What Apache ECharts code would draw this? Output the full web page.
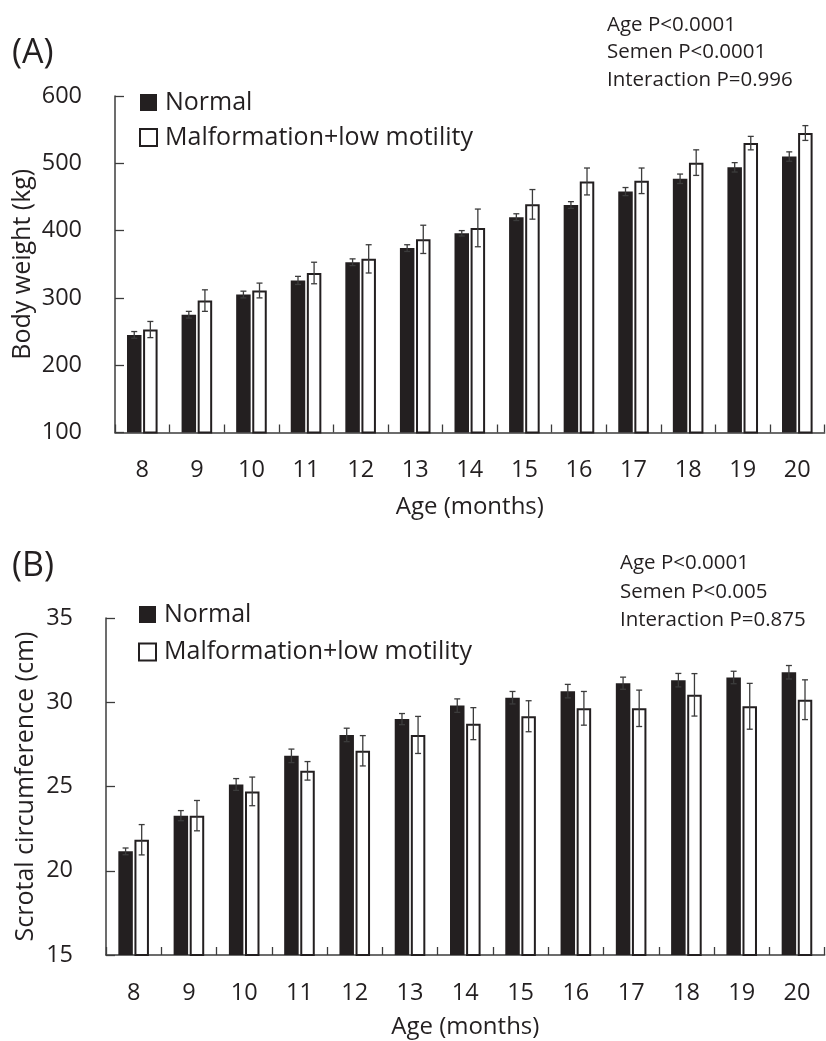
<!DOCTYPE html>
<html>
<head>
<meta charset="utf-8">
<script src="https://cdn.jsdelivr.net/npm/echarts@6/dist/echarts.min.js"></script>
<style>
  html, body { margin: 0; padding: 0; background: #fff; }
  #chart { width: 826px; height: 1041px; }
</style>
</head>
<body>
<div id="chart"></div>
<script>
// ---- Data ----
const months = ['8', '9', '10', '11', '12', '13', '14', '15', '16', '17', '18', '19', '20'];
const seriesNames = ['Normal', 'Malformation+low motility'];

const bwNormal    = [245, 275, 305, 326, 353, 374, 396, 420, 438, 458, 477, 494, 510];
const bwNormalErr = [5, 5, 5, 6, 5, 5, 4, 5, 5, 6, 7, 7, 7];
const bwMalf      = [253, 296, 311, 337, 358, 387, 404, 439, 473, 474, 501, 530, 545];
const bwMalfErr   = [12, 16, 11, 16, 21, 21, 28, 22, 20, 19, 19, 10, 11];

const scNormal    = [21.15, 23.27, 25.12, 26.82, 28.06, 29.0, 29.8, 30.27, 30.66, 31.13, 31.31, 31.47, 31.78];
const scNormalErr = [0.2, 0.3, 0.35, 0.4, 0.4, 0.33, 0.4, 0.37, 0.4, 0.36, 0.4, 0.37, 0.4];
const scMalf      = [21.84, 23.27, 24.71, 25.93, 27.12, 28.06, 28.73, 29.17, 29.64, 29.64, 30.44, 29.76, 30.15];
const scMalfErr   = [0.9, 0.9, 0.85, 0.55, 0.9, 1.1, 0.95, 0.92, 1.0, 1.08, 1.26, 1.36, 1.18];

const bwTicks = { min: 100, max: 600, interval: 100 };
const scTicks = { min: 15, max: 35, interval: 5 };

const statsA = ['Age P<0.0001', 'Semen P<0.0001', 'Interaction P=0.996'];
const statsB = ['Age P<0.0001', 'Semen P<0.005', 'Interaction P=0.875'];

// ---- Style ----
const FONT = '"Open Sans", "Noto Sans", sans-serif';
const TXT = '#231f20';
const AX = '#3c3c3c';
const DARK = '#231f20';
const BAR_W = 14.5;
const GAP_PCT = 11;
const OFFSET = (BAR_W + BAR_W * GAP_PCT / 100) / 2;

function errData(mean, err) {
  return mean.map((m, i) => [i, m, err[i]]);
}

function errSeries(gridIdx, mean, err, side) {
  return {
    type: 'custom',
    xAxisIndex: gridIdx, yAxisIndex: gridIdx,
    data: errData(mean, err),
    encode: { x: 0, y: 1 },
    z: 5,
    silent: true,
    renderItem: function (params, api) {
      const idx = api.value(0), m = api.value(1), e = api.value(2);
      const top = api.coord([idx, m + e]);
      const bot = api.coord([idx, m - e]);
      const x = top[0] + side * OFFSET;
      const cap = 3;
      const st = { stroke: AX, lineWidth: 1.3 };
      return {
        type: 'group',
        children: [
          { type: 'line', shape: { x1: x, y1: top[1], x2: x, y2: bot[1] }, style: st },
          { type: 'line', shape: { x1: x - cap, y1: top[1], x2: x + cap, y2: top[1] }, style: st },
          { type: 'line', shape: { x1: x - cap, y1: bot[1], x2: x + cap, y2: bot[1] }, style: st }
        ]
      };
    }
  };
}

function xAxisCfg(gridIdx, margin, nameGap) {
  return {
    type: 'category', gridIndex: gridIdx, data: months,
    name: 'Age (months)', nameLocation: 'middle', nameGap: nameGap,
    nameMoveOverlap: false,
    nameTextStyle: { fontFamily: FONT, fontSize: 24, color: TXT },
    axisLine: { show: true, lineStyle: { color: AX, width: 1.5 } },
    axisTick: { show: true, inside: true, length: 8, lineStyle: { color: AX, width: 1.3 } },
    axisLabel: { fontFamily: FONT, fontSize: 23.5, color: TXT, margin: margin },
    splitLine: { show: false }
  };
}

function yAxisCfg(gridIdx, ticks, name, nameGap) {
  return {
    type: 'value', gridIndex: gridIdx,
    min: ticks.min, max: ticks.max, interval: ticks.interval,
    name: name, nameLocation: 'middle', nameRotate: 90, nameGap: nameGap,
    nameMoveOverlap: false,
    nameTextStyle: { fontFamily: FONT, fontSize: 25, color: TXT },
    axisLine: { show: true, lineStyle: { color: AX, width: 1.5 } },
    axisTick: { show: true, inside: true, length: 9, lineStyle: { color: AX, width: 1.3 } },
    axisLabel: { fontFamily: FONT, fontSize: 23.5, color: TXT, margin: 33 },
    splitLine: { show: false }
  };
}

function barSeries(gridIdx, name, values) {
  const isNormal = name === seriesNames[0];
  return {
    type: 'bar', name: name,
    xAxisIndex: gridIdx, yAxisIndex: gridIdx,
    data: values,
    barWidth: BAR_W, barGap: GAP_PCT + '%',
    itemStyle: isNormal
      ? { color: DARK }
      : { color: '#ffffff', borderColor: DARK, borderWidth: 2 },
    silent: true
  };
}

function legendCfg(top, left, gap) {
  return {
    orient: 'vertical', top: top, left: left,
    itemWidth: 17, itemHeight: 17, itemGap: gap,
    icon: 'rect', selectedMode: false,
    padding: 0,
    textStyle: { fontFamily: FONT, fontSize: 25, color: TXT, lineHeight: 24, padding: [0, 0, 0, 3] },
    data: seriesNames
  };
}

const option = {
  animation: false,
  backgroundColor: '#ffffff',
  title: [
    { text: '(A)', left: 12, top: 36, padding: 0, textStyle: { fontFamily: FONT, fontSize: 34, fontWeight: 'normal', color: TXT } },
    { text: '(B)', left: 12, top: 549, padding: 0, textStyle: { fontFamily: FONT, fontSize: 34, fontWeight: 'normal', color: TXT } },
    { text: statsA.join('\n'), left: 607, top: 11, padding: 0, textStyle: { fontFamily: FONT, fontSize: 20.5, fontWeight: 'normal', color: TXT, lineHeight: 27.5 } },
    { text: statsB.join('\n'), left: 620, top: 549, padding: 0, textStyle: { fontFamily: FONT, fontSize: 20.5, fontWeight: 'normal', color: TXT, lineHeight: 28.5 } }
  ],
  legend: [ legendCfg(90, 139, 10), legendCfg(602, 138, 12.5) ],
  grid: [
    { left: 115, top: 96, width: 709.6, height: 336.5 },
    { left: 106, top: 618, width: 718.6, height: 337 }
  ],
  xAxis: [ xAxisCfg(0, 26, 63), xAxisCfg(1, 26, 60) ],
  yAxis: [
    yAxisCfg(0, bwTicks, 'Body weight (kg)', 80),
    yAxisCfg(1, scTicks, 'Scrotal circumference (cm)', 68)
  ],
  series: [
    barSeries(0, seriesNames[0], bwNormal),
    barSeries(0, seriesNames[1], bwMalf),
    errSeries(0, bwNormal, bwNormalErr, -1),
    errSeries(0, bwMalf, bwMalfErr, 1),
    barSeries(1, seriesNames[0], scNormal),
    barSeries(1, seriesNames[1], scMalf),
    errSeries(1, scNormal, scNormalErr, -1),
    errSeries(1, scMalf, scMalfErr, 1)
  ]
};

const chart = echarts.init(document.getElementById('chart'), null, { renderer: 'canvas' });
chart.setOption(option);
</script>
</body>
</html>
